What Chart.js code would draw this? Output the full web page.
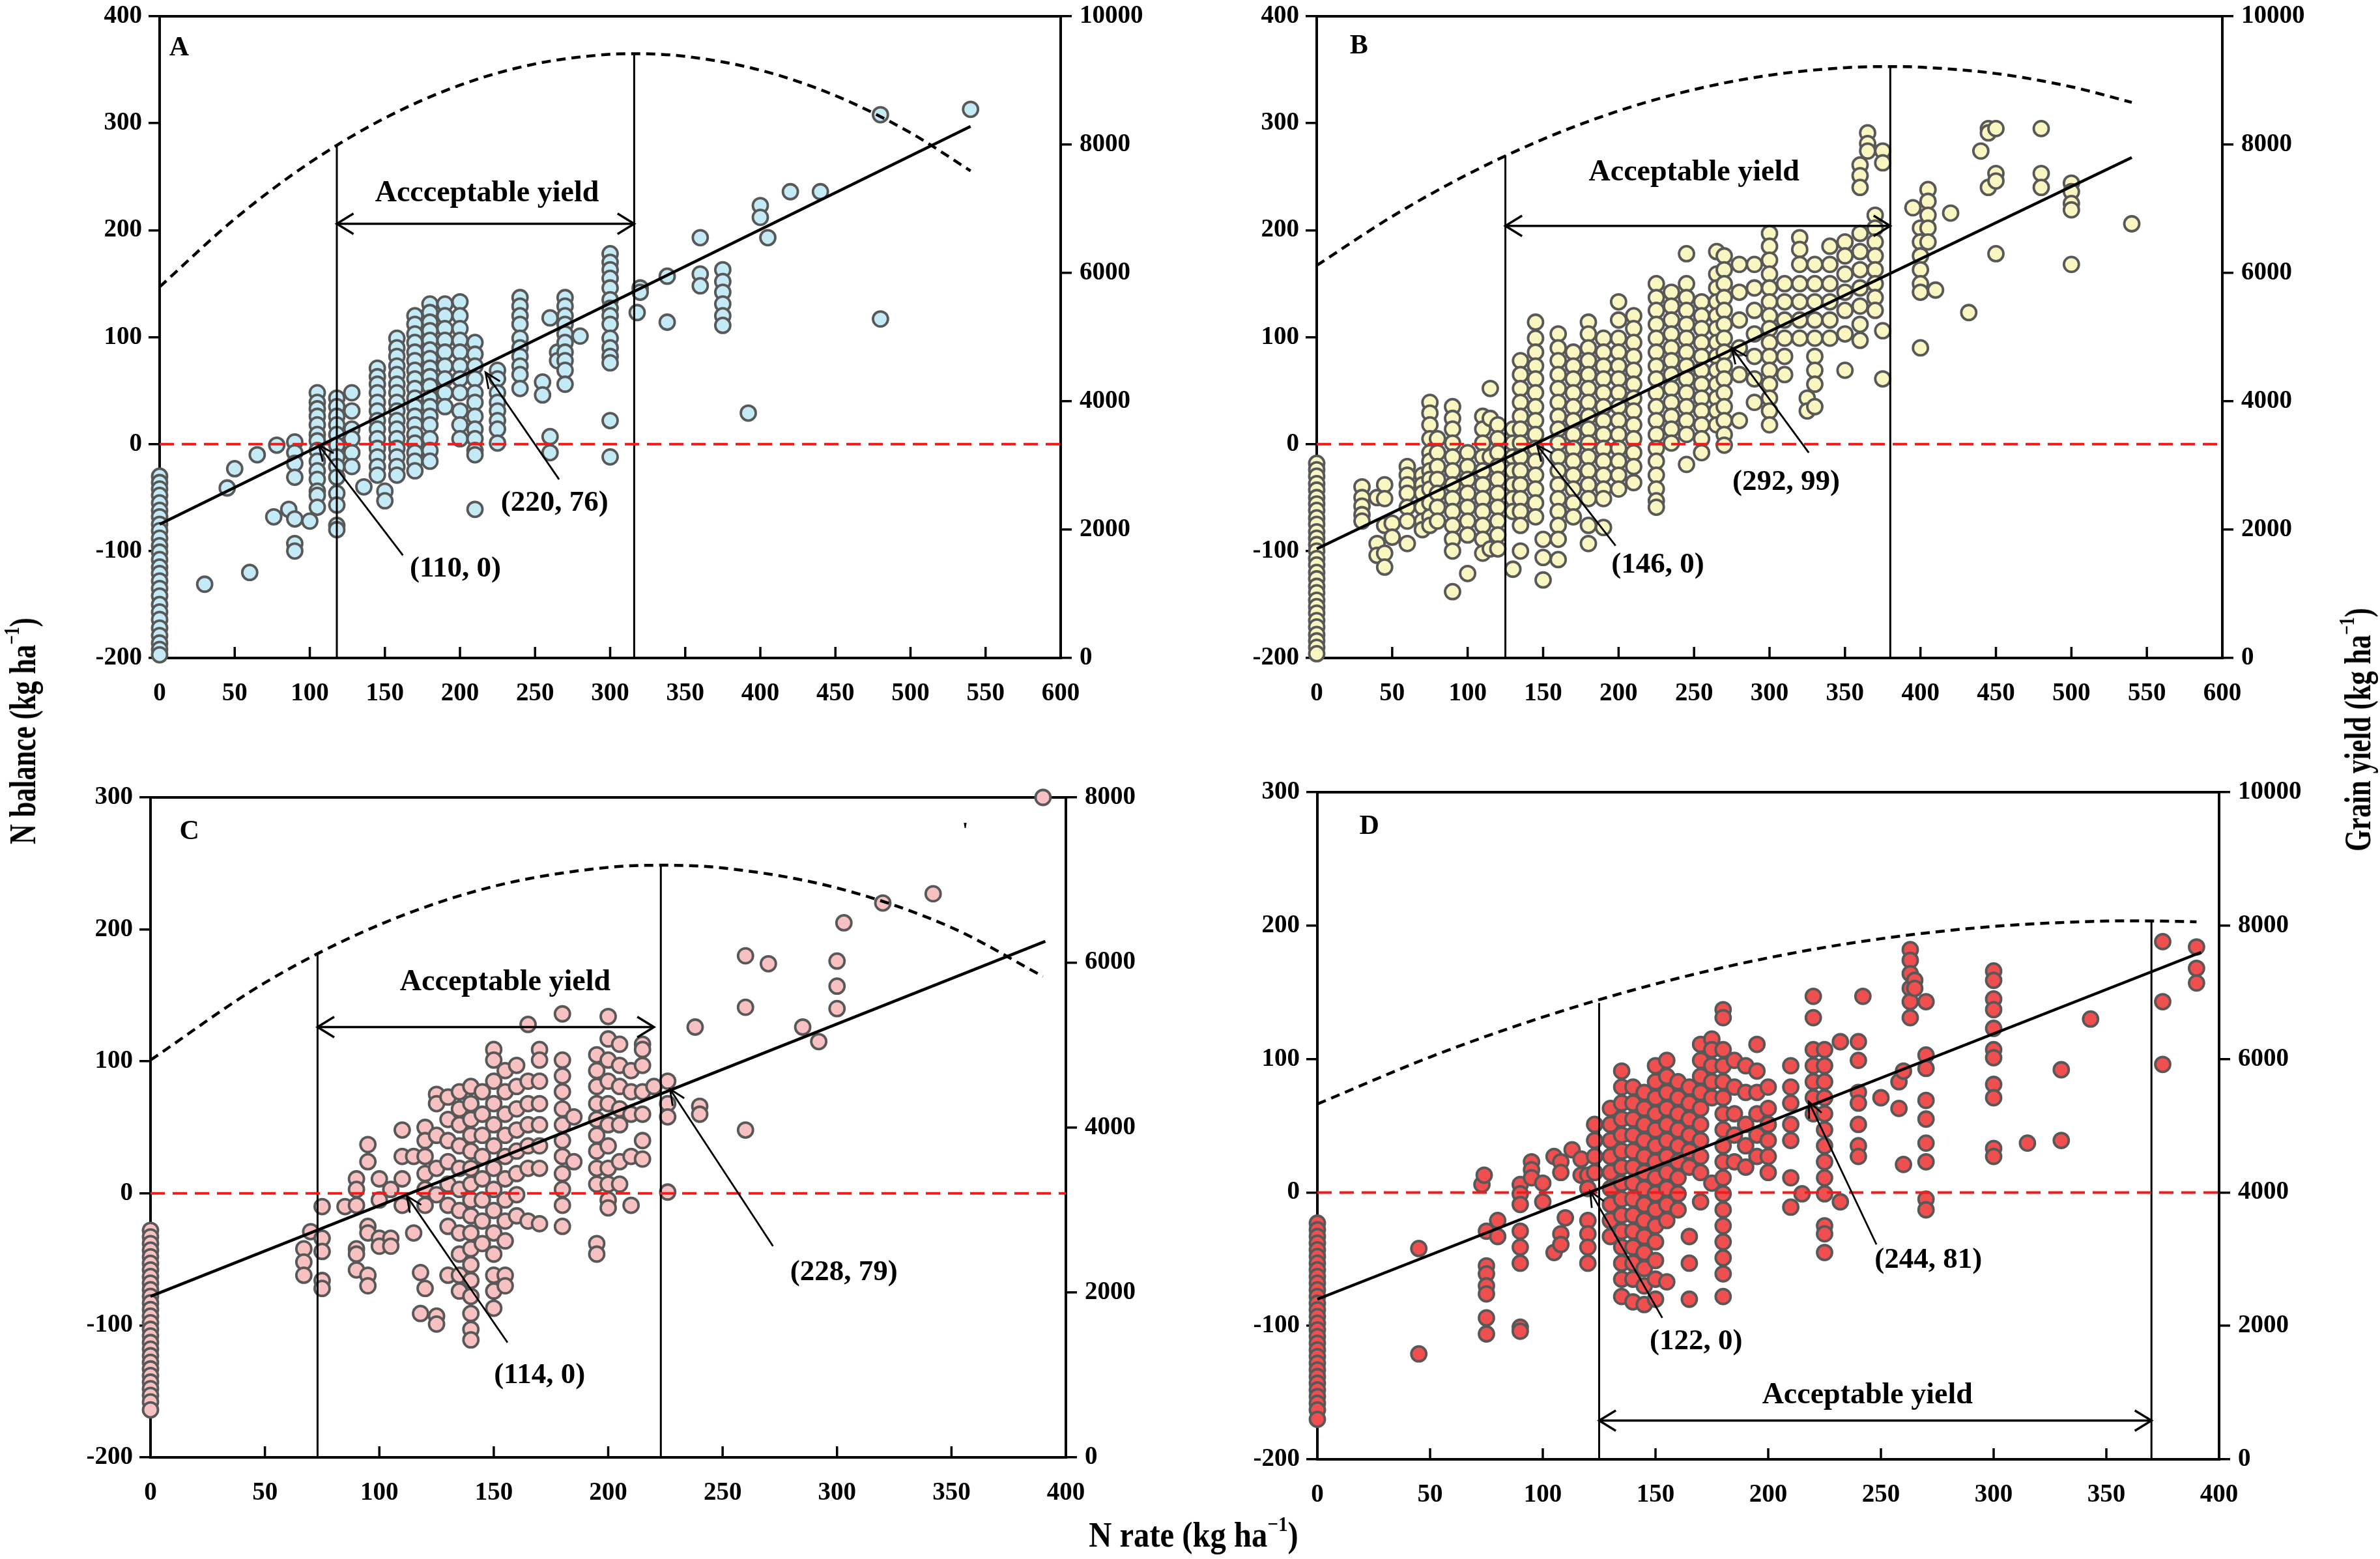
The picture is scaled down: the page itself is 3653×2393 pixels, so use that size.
<!DOCTYPE html>
<html><head><meta charset="utf-8">
<script src="https://cdn.jsdelivr.net/npm/chart.js@4.4.1/dist/chart.umd.min.js"></script>
<style>
html,body{margin:0;padding:0;background:#fff;}
body{width:3653px;height:2393px;position:relative;overflow:hidden;font-family:'Liberation Serif','Times New Roman',serif;}
.panel{position:absolute;}
.title{position:absolute;font-weight:bold;white-space:nowrap;color:#000;line-height:1;}
.title sup{font-size:0.6em;vertical-align:0.75em;line-height:0;}
</style></head><body>
<div class="panel" style="left:0;top:0;width:1820px;height:1130px"><canvas id="cA"></canvas></div>
<div class="panel" style="left:1820px;top:0;width:1833px;height:1130px"><canvas id="cB"></canvas></div>
<div class="panel" style="left:0;top:1130px;width:1820px;height:1263px"><canvas id="cC"></canvas></div>
<div class="panel" style="left:1820px;top:1130px;width:1833px;height:1263px"><canvas id="cD"></canvas></div>
<div class="title" style="left:35px;top:1122px;font-size:56px;transform:translate(-50%,-50%) rotate(-90deg) scaleX(0.76);">N balance (kg ha<sup>−1</sup>)</div>
<div class="title" style="left:3619px;top:1120px;font-size:56px;transform:translate(-50%,-50%) rotate(-90deg) scaleX(0.76);">Grain yield (kg ha<sup>−1</sup>)</div>
<div class="title" style="left:1832px;top:2356px;font-size:54px;transform:translate(-50%,-50%) scaleX(0.9);">N rate (kg ha<sup>−1</sup>)</div>
<script>
// ---------------- DATA ----------------
// scatter points: [N rate, [N balance values]]
const pointsA = [
 [0,[-30,-36,-42,-48,-55,-62,-68,-75,-81,-88,-95,-101,-108,-115,-121,-128,-135,-142,-150,-157,-164,-172,-179,-186,-192,-197]],
 [30,[-131]],[45,[-41]],[50,[-23]],[60,[-120]],[65,[-10]],[76,[-68]],[78,[-1]],[86,[-61]],
 [90,[2,-8,-18,-31,-70,-93,-100]],[100,[-72]],
 [105,[48,39,33,26,18,9,3,-6,-16,-25,-33,-44,-48,-59]],
 [118,[43,35,26,18,9,-1,-12,-21,-31,-46,-57,-76,-80]],
 [128,[48,31,14,5,-8,-21]],[136,[-40]],
 [145,[71,63,56,48,39,31,22,14,5,-4,-12,-21,-29]],[150,[-44,-53]],
 [158,[99,90,82,73,65,56,48,39,31,22,14,5,-4,-12,-21,-29]],
 [170,[120,112,103,95,86,78,69,61,52,43,35,26,18,9,1,-8,-16,-25]],
 [180,[131,123,114,106,97,88,80,71,63,54,43,35,26,18,5,-6,-16]],
 [190,[131,120,108,97,86,73,61,48,35]],
 [200,[133,120,108,97,86,73,61,48,31,18,5]],
 [210,[95,84,73,61,48,39,26,14,5,-6,-10,-61]],
 [225,[69,61,48,39,31,22,14,1]],
 [240,[137,129,120,112,99,90,82,73,65,52]],
 [255,[58,46]],[260,[118,7,-8]],[265,[86,78]],
 [270,[137,129,120,112,103,95,86,78,69,56]],[280,[101]],
 [300,[178,170,163,155,146,135,127,120,112,99,90,82,76,22,-12]],
 [318,[123]],[320,[146,142]],[338,[157,114]],[360,[193,159,148]],
 [375,[163,152,142,131,120,111]],[392,[29]],[400,[223,212]],[405,[193]],
 [420,[236]],[440,[236]],[480,[308,117]],[540,[313]]
];
const pointsB = [
 [0,[-18,-24,-30,-37,-43,-50,-56,-62,-69,-75,-82,-88,-94,-100,-107,-113,-120,-126,-133,-139,-146,-152,-158,-165,-171,-178,-184,-190,-196]],
 [30,[-40,-50,-58,-66,-72]],[40,[-50,-93,-104]],[45,[-38,-51,-76,-102,-115]],[50,[-74,-87]],
 [60,[-21,-29,-38,-46,-59,-72,-93]],[70,[-29,-38,-46,-59,-72,-80]],
 [75,[39,29,18,5,-8,-16,-25,-33,-42,-55,-68,-76]],[80,[5,-8,-21,-33,-46,-59,-72]],
 [90,[35,24,14,1,-12,-25,-38,-51,-63,-76,-89,-100,-138]],
 [100,[-8,-21,-33,-46,-59,-72,-85,-121]],
 [110,[26,14,1,-12,-25,-38,-51,-63,-76,-89,-102]],[115,[52,24,-12,-98]],
 [120,[18,5,-8,-21,-33,-46,-59,-72,-85,-98]],[130,[14,1,-12,-25,-38,-51,-63,-117]],
 [135,[78,65,52,39,26,14,1,-12,-25,-38,-51,-63,-76,-100]],
 [145,[114,99,86,73,61,48,35,22,9,-4,-16,-29,-42,-55,-68]],[150,[-89,-106,-127]],
 [160,[103,90,78,65,52,39,26,14,1,-12,-25,-38,-51,-63,-76,-89,-108]],
 [170,[86,73,61,48,35,22,9,-4,-16,-29,-42,-55,-68]],
 [180,[114,103,90,78,65,52,39,26,14,1,-12,-25,-38,-51,-76,-93]],
 [190,[99,86,73,61,48,35,22,9,-4,-16,-29,-42,-51,-78]],
 [200,[133,116,99,86,73,61,48,35,22,9,-4,-16,-29,-42]],
 [210,[120,108,95,82,69,56,43,31,18,5,-8,-21,-36]],
 [225,[150,137,125,112,99,86,73,61,48,35,22,9,-4,-16,-29,-42,-53,-59]],
 [235,[142,129,116,103,90,78,65,52,39,26,14,1]],
 [245,[178,150,137,125,112,99,86,73,61,48,35,22,9,-19]],
 [255,[133,120,108,95,82,69,56,43,31,18,5,-8]],
 [265,[180,159,146,133,120,108,95,82,69,56,43,31,18]],
 [270,[176,163,150,137,125,112,99,86,73,61,48,35,22,9,-1]],
 [280,[168,142,116,90,65,22]],[290,[168,146,125,103,82,61,39]],
 [300,[197,185,172,159,146,133,120,108,95,82,69,56,43,31,18]],
 [310,[150,133,116,99,82,65]],[320,[193,182,168,150,133,116,99]],[325,[43,31]],
 [330,[168,150,133,116,99,82,69,56,35]],[340,[185,168,150,133,116,99]],
 [350,[189,176,159,142,125,103,69]],[360,[261,251,240,197,180,163,146,129,112,97]],
 [365,[291,281,274]],[370,[214,202,189,176,163,150,137,125]],[375,[274,263,106,61]],
 [395,[221]],[400,[202,189,176,163,150,142,90]],[405,[238,227,214,202,189]],
 [410,[144]],[420,[216]],[432,[123]],[440,[274]],[445,[295,291,240]],[450,[295,253,246,178]],
 [480,[295,253,240]],[500,[244,236,225,219,168]],[540,[206]]
];
const pointsC = [
 [0,[-28,-33,-38,-43,-48,-53,-58,-63,-68,-73,-78,-83,-88,-93,-98,-103,-108,-113,-118,-123,-128,-133,-138,-143,-148,-153,-158,-164]],
 [67,[-42,-52,-62]],[70,[-29]],[75,[-10,-34,-44,-66,-72]],[85,[-10]],
 [90,[11,3,-9,-42,-46,-58]],[95,[37,24,-25,-30,-62,-70]],[100,[11,-5,-34,-40]],
 [105,[3,-34,-40]],[110,[48,28,11,-9]],[115,[28,-30]],[118,[-60,-91]],
 [120,[50,40,28,15,3,-9,-72]],[125,[75,68,44,19,-1,-93,-99]],
 [130,[73,56,40,24,7,-9,-25,-62]],[135,[77,64,52,36,19,3,-13,-30,-46,-62,-74]],
 [140,[81,68,56,44,32,19,7,-5,-17,-30,-42,-54,-66,-78,-91,-103,-111]],
 [145,[77,60,44,28,11,-5,-21,-38]],
 [150,[109,101,85,68,52,36,19,3,-13,-30,-46,-62,-74,-87]],
 [155,[93,77,60,44,28,11,-5,-21,-36,-62,-70]],[160,[97,81,64,48,32,15,-1,-17]],
 [165,[128,85,68,52,36,19,-21]],[170,[109,101,85,68,52,36,19,-23]],
 [180,[136,101,89,77,64,52,40,28,15,3,-9,-25]],[185,[58,24]],
 [195,[105,93,81,68,56,44,32,19,7,-38,-46]],[200,[134,117,101,85,68,52,36,19,7,-5,-11]],
 [205,[113,97,81,64,52,24,7]],[210,[93,77,60,28,-9]],[215,[113,109,97,77,60,40,26]],
 [220,[81]],[226,[85,68,58,1]],[238,[126]],[240,[66,60]],
 [260,[180,141,48]],[270,[174]],[285,[126]],[292,[115]],[300,[176,157,140]],
 [303,[205]],[320,[220]],[342,[227]],[390,[300]]
];
const pointsD = [
 [0,[-23,-28,-33,-38,-43,-48,-53,-58,-63,-68,-73,-78,-83,-88,-93,-98,-103,-108,-113,-118,-123,-128,-133,-138,-143,-148,-153,-158,-163,-170]],
 [45,[-42,-121]],[73,[6]],[74,[13]],[75,[-29,-55,-61,-70,-76,-94,-106]],[80,[-21,-33]],
 [90,[6,-1,-9,-29,-41,-53,-101,-104]],[95,[23,17,11]],[100,[7,-7]],[105,[27,-45]],
 [108,[23,15,-31,-39]],[110,[-19]],[113,[32]],[117,[25,13]],[120,[13,3,-21,-31,-41,-53]],
 [123,[51,39,27,15]],[130,[63,51,39,27,15,3,-9,-21,-33]],
 [135,[91,79,67,55,43,31,19,7,-5,-17,-29,-41,-53,-65,-78]],
 [140,[79,67,55,43,31,19,7,-5,-17,-29,-41,-53,-65,-82]],
 [145,[75,63,51,39,27,15,3,-9,-21,-33,-45,-57,-70,-84]],
 [150,[95,83,71,59,47,35,23,11,-1,-13,-25,-37,-51,-65,-80]],
 [155,[99,87,75,63,51,39,27,15,3,-9,-21,-67]],[160,[83,71,59,47,35,23,11,-1,-13]],
 [165,[79,67,55,43,31,19,-33,-53,-80]],[170,[111,99,87,75,63,51,39,27,15,-7]],
 [175,[115,107,95,83,71,7]],
 [180,[137,131,107,95,83,71,59,47,35,23,11,-1,-13,-25,-37,-49,-61,-78]],
 [185,[99,79,59,43,23]],[190,[95,75,51,35,19]],[195,[111,91,75,59,43,27]],
 [200,[79,63,51,39,27,15]],[210,[95,79,67,51,39,11,-11]],[215,[-1]],
 [220,[147,131,107,95,83,71,59]],[225,[107,95,83,71,59,47,35,23,11,-1,-25,-31,-45]],
 [232,[113,-7]],[240,[113,99,75,67,51,35,27]],[242,[147]],[250,[71]],[258,[83,63]],
 [260,[21,91]],[263,[182,174,164,153,143,131]],[265,[159,153]],
 [270,[143,103,93,69,55,37,23,-5,-13]],
 [300,[166,159,145,137,123,107,101,81,71,33,27]],[315,[37]],[330,[92,39]],[343,[130]],
 [375,[188,143,96]],[390,[184,168,157]]
];
// linear N balance fits (endpoints)
const regA_x = [0,540], regA_y = [-75,297];
const regB_x = [0,540], regB_y = [-98,268];
const regC_x = [0,391], regC_y = [-78,191];
const regD_x = [0,392], regD_y = [-80,180];
// grain yield response curves (kg/ha, right axis)
const curveA_x = [0,50,100,150,200,250,300,316,350,400,450,500,540];
const curveA_y = [5783,6842,7719,8414,8927,9258,9408,9417,9375,9160,8764,8185,7591];
const curveB_x = [0,50,100,150,200,250,300,350,379,400,450,500,540];
const curveB_y = [6117,6881,7537,8085,8526,8858,9082,9199,9217,9207,9108,8901,8658];
const curveC_x = [0,50,100,150,200,224,250,300,350,390];
const curveC_y = [4816,5754,6456,6922,7152,7178,7145,6902,6423,5830];
const curveD_x = [0,50,100,150,200,250,300,350,364,390];
const curveD_y = [5326,6030,6629,7125,7517,7804,7988,8068,8072,8057];
// acceptable-yield limits (N rate) and the N balance height where they meet the curve
const limitsA = [118,316], limitTopsA = [280,365];
const limitsB = [125,380], limitTopsB = [270,353];
const limitsC = [73,223],  limitTopsC = [181,249];
const limitsD = [125,370], limitTopsD = [142,204];
// annotated points: label text, label position, arrow tail, arrow head
const notesA = [["(110, 0)",197,-117,162,-104,106,-1],["(220, 76)",263,-55,266,-33,217,67]];
const notesB = [["(146, 0)",226,-113,198,-95,146,-1],["(292, 99)",311,-36,326,-8,275,90]];
const notesC = [["(114, 0)",170,-138,156,-113,112,-2],["(228, 79)",303,-60,272,-40,227,79]];
const notesD = [["(122, 0)",168,-112,153,-94,121,1],["(244, 81)",271,-51,248,-39,218,68]];
// ---------------- DRAWING ----------------
Chart.defaults.font.family = "'Liberation Serif','Times New Roman',serif";
Chart.defaults.font.weight = 'bold';
Chart.defaults.font.size = 39;
Chart.defaults.color = '#000';

function flat(groups){const out=[];groups.forEach(([x,ys])=>ys.forEach(y=>out.push({x:x,y:y})));return out;}
function pairs(xs,ys){return xs.map((x,i)=>({x:x,y:ys[i]}));}

function drawArrowHead(ctx,x1,y1,x2,y2,len,ang){
  const a=Math.atan2(y2-y1,x2-x1);
  ctx.beginPath();
  ctx.moveTo(x2-len*Math.cos(a-ang),y2-len*Math.sin(a-ang));
  ctx.lineTo(x2,y2);
  ctx.lineTo(x2-len*Math.cos(a+ang),y2-len*Math.sin(a+ang));
  ctx.stroke();
}

function makePanel(id,c){
  const annot={
    id:'annot_'+id,
    beforeDatasetsDraw(chart){
      const ctx=chart.ctx,a=chart.chartArea,xs=chart.scales.x;
      ctx.save();
      ctx.strokeStyle='#000';ctx.lineWidth=4;
      ctx.strokeRect(a.left,a.top,a.right-a.left,a.bottom-a.top);
      ctx.lineWidth=3.5;
      xs.ticks.forEach(t=>{const px=xs.getPixelForValue(t.value);
        ctx.beginPath();ctx.moveTo(px,a.bottom);ctx.lineTo(px,a.bottom-17);ctx.stroke();});
      ctx.restore();
    },
    afterDatasetsDraw(chart){
      const ctx=chart.ctx,xs=chart.scales.x,ys=chart.scales.y;
      const X=v=>xs.getPixelForValue(v),Y=v=>ys.getPixelForValue(v);
      ctx.save();
      ctx.strokeStyle='#000';ctx.fillStyle='#000';ctx.lineCap='butt';
      const ay=Y(c.accY),ax1=X(c.limits[0]),ax2=X(c.accEnd);
      ctx.lineWidth=3.5;
      ctx.beginPath();ctx.moveTo(ax1,ay);ctx.lineTo(ax2,ay);ctx.stroke();
      drawArrowHead(ctx,ax2,ay,ax1,ay,30,0.55);
      drawArrowHead(ctx,ax1,ay,ax2,ay,30,0.55);
      ctx.textAlign='center';ctx.textBaseline='middle';
      ctx.font="bold 46px 'Liberation Serif'";
      ctx.fillText(c.accText,X(c.accPos[0]),Y(c.accPos[1]));
      ctx.font="bold 45px 'Liberation Serif'";
      ctx.lineWidth=2.8;
      c.notes.forEach(n=>{
        ctx.fillText(n[0],X(n[1]),Y(n[2]));
        ctx.beginPath();ctx.moveTo(X(n[3]),Y(n[4]));ctx.lineTo(X(n[5]),Y(n[6]));ctx.stroke();
        drawArrowHead(ctx,X(n[3]),Y(n[4]),X(n[5]),Y(n[6]),26,0.42);
      });
      ctx.font="bold 42px 'Liberation Serif'";
      ctx.fillText(c.letter,X(c.letterPos[0]),Y(c.letterPos[1]));
      if(c.mark){ctx.font="bold 34px 'Liberation Serif'";ctx.fillText("'",X(c.mark[0]),Y(c.mark[1]));}
      ctx.restore();
    }
  };
  const lineDs=(data,extra)=>Object.assign({type:'line',data:data,borderColor:'#000',borderWidth:4.5,
      pointRadius:0,fill:false,order:1,clip:false},extra||{});
  const datasets=[
    {type:'scatter',data:flat(c.points),pointRadius:11.5,pointBackgroundColor:c.color,
     pointBorderColor:'#585858',pointBorderWidth:3.8,order:10,clip:false},
    lineDs(pairs(c.regX,c.regY)),
    lineDs([{x:0,y:0},{x:c.xMax,y:0}],{borderColor:'#f01c1c',borderWidth:4,borderDash:[22,12]}),
    lineDs(pairs(c.curveX,c.curveY),{yAxisID:'y2',borderDash:[14,9],borderWidth:4.5,cubicInterpolationMode:'monotone'}),
    lineDs([{x:c.limits[0],y:c.yMin},{x:c.limits[0],y:c.tops[0]}],{borderWidth:3}),
    lineDs([{x:c.limits[1],y:c.yMin},{x:c.limits[1],y:c.tops[1]}],{borderWidth:3})
  ];
  const g=c.geo;
  new Chart(document.getElementById(id),{
    data:{datasets:datasets},
    options:{
      responsive:true,maintainAspectRatio:false,devicePixelRatio:1,animation:false,
      layout:{padding:{top:g.T,left:0,right:0,bottom:0}},
      plugins:{legend:{display:false},tooltip:{enabled:false}},
      scales:{
        x:{type:'linear',position:'bottom',min:0,max:c.xMax,
           ticks:{stepSize:50,padding:32,maxRotation:0,autoSkip:false,callback:v=>String(v)},
           grid:{display:false,drawTicks:false},border:{display:false},
           afterFit:s=>{s.height=g.H-g.B;s.paddingLeft=0;s.paddingRight=0;}},
        y:{type:'linear',position:'left',min:c.yMin,max:c.yMax,
           ticks:{stepSize:100,padding:10,callback:v=>String(v)},
           grid:{drawOnChartArea:false,drawTicks:true,tickLength:17,color:'#000',lineWidth:3.5},
           border:{display:false},
           afterFit:s=>{s.width=g.L;s.paddingTop=0;s.paddingBottom=0;}},
        y2:{type:'linear',position:'right',min:0,max:c.y2Max,
           ticks:{stepSize:2000,padding:12,callback:v=>String(v)},
           grid:{drawOnChartArea:false,drawTicks:true,tickLength:17,color:'#000',lineWidth:3.5},
           border:{display:false},
           afterFit:s=>{s.width=g.W-g.R;s.paddingTop=0;s.paddingBottom=0;}}
      }
    },
    plugins:[annot]
  });
}

makePanel('cA',{points:pointsA,color:'#c4eaf6',xMax:600,yMin:-200,yMax:400,y2Max:10000,
  regX:regA_x,regY:regA_y,curveX:curveA_x,curveY:curveA_y,limits:limitsA,tops:limitTopsA,
  accY:206,accEnd:316,accText:'Accceptable yield',accPos:[218,234],notes:notesA,
  letter:'A',letterPos:[13,370],geo:{W:1820,H:1130,L:245,R:1628,T:25,B:1010}});
makePanel('cB',{points:pointsB,color:'#faf6c2',xMax:600,yMin:-200,yMax:400,y2Max:10000,
  regX:regB_x,regY:regB_y,curveX:curveB_x,curveY:curveB_y,limits:limitsB,tops:limitTopsB,
  accY:204,accEnd:380,accText:'Acceptable yield',accPos:[250,254],notes:notesB,
  letter:'B',letterPos:[28,372],geo:{W:1833,H:1130,L:201,R:1591,T:25,B:1010}});
makePanel('cC',{points:pointsC,color:'#f7c1c1',xMax:400,yMin:-200,yMax:300,y2Max:8000,
  regX:regC_x,regY:regC_y,curveX:curveC_x,curveY:curveC_y,limits:limitsC,tops:limitTopsC,
  accY:126,accEnd:220,accText:'Acceptable yield',accPos:[155,160],notes:notesC,
  letter:'C',letterPos:[17,274],mark:[356,274],geo:{W:1820,H:1263,L:231,R:1636,T:94,B:1107}});
makePanel('cD',{points:pointsD,color:'#ef4f4f',xMax:400,yMin:-200,yMax:300,y2Max:10000,
  regX:regD_x,regY:regD_y,curveX:curveD_x,curveY:curveD_y,limits:limitsD,tops:limitTopsD,
  accY:-171,accEnd:370,accText:'Acceptable yield',accPos:[244,-152],notes:notesD,
  letter:'D',letterPos:[23,274],geo:{W:1833,H:1263,L:202,R:1586,T:86,B:1110}});
</script>
</body></html>
